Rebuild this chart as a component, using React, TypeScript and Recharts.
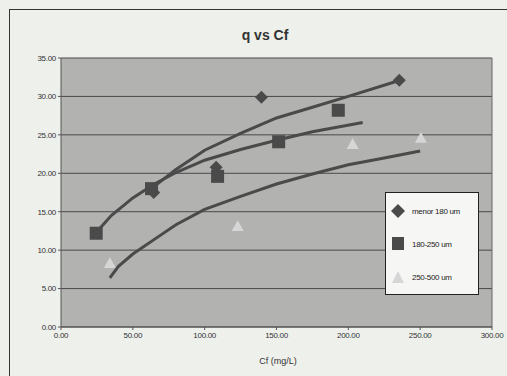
import React from 'react';
import { ScatterChart, Scatter, XAxis, YAxis, CartesianGrid, ReferenceLine } from 'recharts';

// measured points
const menorX = [64.5, 108, 139.5, 235.5];
const menorY = [17.5, 20.8, 29.9, 32.1];
const medioX = [24.5, 63, 109, 151.5, 193];
const medioY = [12.2, 18.0, 19.6, 24.1, 28.2];
const grandeX = [34, 123, 203, 250.5];
const grandeY = [8.3, 13.1, 23.8, 24.6];

// trend curves
const trendMenorX = [63, 80, 100, 125, 150, 175, 200, 236];
const trendMenorY = [18.0, 20.5, 23.0, 25.2, 27.2, 28.6, 30.0, 32.1];
const trendMedioX = [24.5, 35, 50, 65, 80, 100, 125, 150, 175, 210];
const trendMedioY = [12.3, 14.5, 16.8, 18.6, 20.1, 21.7, 23.1, 24.3, 25.4, 26.6];
const trendGrandeX = [34, 40, 50, 65, 80, 100, 125, 150, 175, 200, 225, 250];
const trendGrandeY = [6.4, 7.9, 9.5, 11.4, 13.3, 15.3, 17.0, 18.6, 19.9, 21.1, 22.0, 22.9];

const xTicks = [0, 50, 100, 150, 200, 250, 300];
const yTicks = [0, 5, 10, 15, 20, 25, 30, 35];
const seriesNames = ['menor 180 um', '180-250 um', '250-500 um'];

const zip = (xs: number[], ys: number[]) => xs.map((x, i) => ({ x, y: ys[i] }));

const DARK = '#4a4a4a';
const LIGHT = '#d6d6d6';

const Diamond = (p: any) => {
  const { cx, cy } = p;
  if (cx == null || cy == null) return null;
  const r = 6.5;
  return <polygon points={`${cx},${cy - r} ${cx + r},${cy} ${cx},${cy + r} ${cx - r},${cy}`} fill={DARK} />;
};
const Square = (p: any) => {
  const { cx, cy } = p;
  if (cx == null || cy == null) return null;
  const r = 6.5;
  return <rect x={cx - r} y={cy - r} width={2 * r} height={2 * r} fill={DARK} />;
};
const Triangle = (p: any) => {
  const { cx, cy } = p;
  if (cx == null || cy == null) return null;
  const r = 6;
  return <polygon points={`${cx},${cy - r} ${cx + r},${cy + r * 0.8} ${cx - r},${cy + r * 0.8}`} fill={LIGHT} />;
};
const NoDot = () => null;

const LegendBox = () => (
  <div
    style={{
      position: 'absolute',
      left: 385,
      top: 192,
      width: 94,
      height: 103,
      background: '#f6f6f4',
      border: '1px solid #222',
      boxSizing: 'border-box',
      fontFamily: '"Liberation Sans", Arial, sans-serif',
      fontSize: 8,
      color: '#222',
    }}
  >
    {seriesNames.map((n, i) => (
      <div key={n} style={{ position: 'absolute', left: 4, top: 10 + i * 33, display: 'flex', alignItems: 'center' }}>
        <svg width={18} height={16}>
          {i === 0 && <polygon points="8,1 15,8 8,15 1,8" fill={DARK} />}
          {i === 1 && <rect x={2} y={1} width={12} height={13} fill={DARK} />}
          {i === 2 && <polygon points="8,2 14,14 2,14" fill={LIGHT} />}
        </svg>
        <span style={{ marginLeft: 4, letterSpacing: -0.3 }}>{n}</span>
      </div>
    ))}
  </div>
);

export default function App() {
  const tickStyle = { fontSize: 8, fill: '#333', fontFamily: '"Liberation Sans", Arial, sans-serif', letterSpacing: -0.3 };
  return (
    <div style={{ position: 'absolute', left: 0, top: 0, width: 507, height: 376, background: '#eef0ec', overflow: 'hidden' }}>
      <div
        style={{
          position: 'absolute',
          left: 9,
          top: 9,
          width: 520,
          height: 400,
          borderLeft: '1px solid #333',
          borderTop: '1px solid #333',
        }}
      />
      <div
        style={{
          position: 'absolute',
          left: 0,
          width: 530,
          top: 27,
          textAlign: 'center',
          fontFamily: '"Liberation Sans", Arial, sans-serif',
          fontWeight: 'bold',
          fontSize: 14,
          color: '#333',
        }}
      >
        q vs Cf
      </div>
      <div
        style={{
          position: 'absolute',
          left: 0,
          width: 556,
          top: 356,
          textAlign: 'center',
          fontFamily: '"Liberation Sans", Arial, sans-serif',
          fontSize: 9,
          color: '#333',
        }}
      >
        Cf (mg/L)
      </div>
      <div style={{ position: 'absolute', left: 0, top: 0 }}>
        <ScatterChart width={507} height={376} margin={{ top: 58, right: 15, bottom: 19, left: 11 }}>
          <CartesianGrid vertical={false} fill="#b2b2b0" stroke="#4a4a4a" horizontalValues={yTicks} />
          <XAxis
            type="number"
            dataKey="x"
            domain={[0, 300]}
            ticks={xTicks}
            tickFormatter={(v: number) => v.toFixed(2)}
            tick={tickStyle}
            axisLine={{ stroke: '#555' }}
            tickLine={{ stroke: '#555' }}
            tickSize={3}
            height={30}
            allowDataOverflow
          />
          <YAxis
            type="number"
            dataKey="y"
            domain={[0, 35]}
            ticks={yTicks}
            tickFormatter={(v: number) => v.toFixed(2)}
            tick={tickStyle}
            axisLine={{ stroke: '#555' }}
            tickLine={{ stroke: '#555' }}
            tickSize={3}
            width={50}
            allowDataOverflow
          />
          <ReferenceLine x={300} stroke="#666" />
          <Scatter data={zip(grandeX, grandeY)} shape={Triangle} isAnimationActive={false} />
          <Scatter
            data={zip(trendGrandeX, trendGrandeY)}
            line={{ stroke: DARK, strokeWidth: 3 }}
            lineType="joint"
            shape={NoDot}
            isAnimationActive={false}
          />
          <Scatter
            data={zip(trendMedioX, trendMedioY)}
            line={{ stroke: DARK, strokeWidth: 3 }}
            lineType="joint"
            shape={NoDot}
            isAnimationActive={false}
          />
          <Scatter
            data={zip(trendMenorX, trendMenorY)}
            line={{ stroke: DARK, strokeWidth: 3 }}
            lineType="joint"
            shape={NoDot}
            isAnimationActive={false}
          />
          <Scatter data={zip(menorX, menorY)} shape={Diamond} isAnimationActive={false} name={seriesNames[0]} />
          <Scatter data={zip(medioX, medioY)} shape={Square} isAnimationActive={false} name={seriesNames[1]} />
        </ScatterChart>
      </div>
      <LegendBox />
    </div>
  );
}
